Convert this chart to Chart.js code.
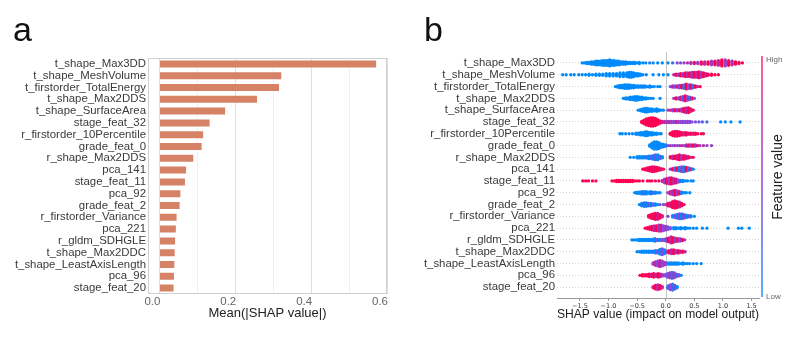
<!DOCTYPE html>
<html>
<head>
<meta charset="utf-8">
<script src="https://cdn.jsdelivr.net/npm/chart.js@4.4.1/dist/chart.umd.min.js"></script>
<style>
  body { margin: 0; background: #fff; font-family: "Liberation Sans", Arial, sans-serif; }
  #wrap { position: relative; width: 807px; height: 339px; overflow: hidden; }
  canvas { position: absolute; top: 0; }
  .panel { position: absolute; font-size: 34px; color: #111; line-height: 1; }
  #cbar { position: absolute; left: 761px; top: 56px; width: 2px; height: 241px;
          background: linear-gradient(#ff5c95, #b06fe0 50%, #5aaeff); }
  .cb { position: absolute; font-size: 8px; color: #666; }
  #fv { position: absolute; left: 777px; top: 177px; font-size: 14px; color: #222;
        transform: translate(-50%, -50%) rotate(-90deg); white-space: nowrap; }
</style>
</head>
<body>
<div id="wrap">
  <canvas id="barChart" width="400" height="339" style="left:0"></canvas>
  <canvas id="swarmChart" width="407" height="339" style="left:400px"></canvas>
  <div class="panel" style="left:13px; top:12px">a</div>
  <div class="panel" style="left:424px; top:12px">b</div>
  <div id="cbar"></div>
  <div class="cb" style="left:766px; top:55px">High</div>
  <div class="cb" style="left:766px; top:292px">Low</div>
  <div id="fv">Feature value</div>
</div>
<script>
// Features, top to bottom
const features = [
  't_shape_Max3DD', 't_shape_MeshVolume', 't_firstorder_TotalEnergy', 't_shape_Max2DDS',
  't_shape_SurfaceArea', 'stage_feat_32', 'r_firstorder_10Percentile', 'grade_feat_0',
  'r_shape_Max2DDS', 'pca_141', 'stage_feat_11', 'pca_92', 'grade_feat_2',
  'r_firstorder_Variance', 'pca_221', 'r_gldm_SDHGLE', 't_shape_Max2DDC',
  't_shape_LeastAxisLength', 'pca_96', 'stage_feat_20'
];

// Panel a: mean |SHAP value|
const meanAbsShap = [0.574, 0.324, 0.318, 0.260, 0.176, 0.135, 0.118, 0.114, 0.092, 0.073,
  0.070, 0.058, 0.056, 0.048, 0.046, 0.044, 0.043, 0.042, 0.041, 0.040];
const barTicks = [0, 0.1, 0.2, 0.3, 0.4, 0.5, 0.6];

// Panel b: SHAP values per feature, "shap:count:featureValue" (0 = low, 1 = high)
const shapTicks = [-1.5, -1.0, -0.5, 0.0, 0.5, 1.0, 1.5];
const swarmRows = [
  '-1.46:1:0 -1.42:1:0 -1.38:2:0 -1.34:2:0 -1.30:3:0 -1.26:3:0 -1.22:4:0 -1.18:4:0 -1.14:4:0 -1.10:5:0 -1.06:5:0 -1.02:5:0 -0.98:6:0 -0.94:5:0 -0.90:5:0 -0.86:4:0 -0.82:4:0 -0.78:3:0 -0.74:3:0 -0.70:3:0 -0.66:2:0 -0.62:2:0 -0.58:2:0 -0.54:2:0 -0.50:1:0 -0.46:2:0 -0.40:1:0 -0.35:1:0 -0.28:1:0.1 -0.22:1:0 -0.14:1:0 -0.06:1:0 0.04:1:0 0.12:1:0.2 0.20:1:0.5 0.26:1:0.4 0.32:1:0.6 0.38:1:0.7 0.44:2:0.6 0.50:2:0.9 0.56:2:0.6 0.62:3:0.9 0.68:3:0.7 0.74:3:1 0.80:4:0.6 0.86:4:1 0.92:5:0.7 0.98:6:1 1.04:6:0.6 1.10:5:1 1.16:4:0.7 1.22:3:1 1.28:2:0.9 1.34:1:1',
  '-1.80:1:0 -1.74:1:0 -1.66:1:0 -1.60:1:0 -1.52:1:0 -1.46:1:0 -1.40:1:0 -1.34:2:0 -1.28:1:0 -1.22:2:0 -1.16:2:0 -1.10:2:0 -1.04:3:0 -0.98:3:0 -0.92:3:0 -0.86:3:0 -0.80:4:0 -0.74:4:0 -0.68:4:0 -0.64:5:0 -0.60:5:0 -0.56:4:0 -0.52:3:0 -0.48:3:0 -0.44:2:0 -0.40:1:0 -0.34:1:0 -0.22:1:0 -0.12:1:0 -0.04:1:0 0.04:1:0 0.14:1:0.7 0.18:2:1 0.22:2:0.6 0.26:3:1 0.30:3:0.6 0.34:4:1 0.38:4:0.7 0.42:4:1 0.46:5:0.6 0.50:5:1 0.54:5:0.7 0.58:6:1 0.62:5:0.6 0.66:4:1 0.70:3:0.8 0.74:2:1 0.80:2:1 0.86:1:1 0.92:1:1',
  '-0.88:1:0 -0.84:2:0 -0.80:3:0 -0.76:3:0 -0.72:4:0 -0.68:4:0 -0.64:4:0 -0.60:3:0 -0.56:3:0 -0.52:2:0 -0.48:2:0 -0.44:2:0 -0.40:2:0 -0.36:2:0 -0.32:1:0 -0.28:2:0 -0.24:1:0 -0.20:1:0 -0.14:1:0 -0.10:1:0 0.08:1:0.5 0.12:2:0.7 0.16:2:0.4 0.20:2:0.8 0.24:3:0.5 0.28:3:1 0.32:4:0.2 0.36:5:1 0.40:4:0.5 0.44:4:0.9 0.48:3:0.2 0.52:2:1 0.56:1:0.7 0.60:1:1',
  '-0.74:1:0 -0.70:2:0 -0.66:2:0 -0.62:3:0 -0.58:3:0 -0.54:4:0 -0.50:4:0 -0.46:3:0 -0.42:3:0 -0.38:2:0 -0.34:2:0 -0.30:1:0 -0.26:1:0 -0.22:1:0 -0.10:1:0 0.14:1:0.6 0.18:2:1 0.22:2:0.5 0.26:3:0.8 0.30:4:0.4 0.34:5:1 0.38:4:0.6 0.42:3:0.2 0.46:2:1 0.50:1:0.5',
  '-0.48:1:0 -0.44:2:0 -0.40:3:0 -0.36:4:0 -0.32:4:0 -0.28:3:0 -0.24:3:0 -0.20:2:0 -0.16:3:0 -0.12:2:0 -0.08:1:0 -0.04:1:0 0.04:1:0.6 0.08:1:0.8 0.12:2:0.5 0.16:2:1 0.20:2:0.6 0.24:2:0.9 0.28:3:0.6 0.32:4:1 0.36:5:0.7 0.40:5:1 0.44:3:0.8 0.48:1:1',
  '-0.42:2:1 -0.38:4:1 -0.34:6:1 -0.30:7:1 -0.26:8:1 -0.22:8:1 -0.18:7:1 -0.14:5:1 -0.10:3:1 -0.06:2:0.8 -0.02:2:0.7 0.02:2:0.6 0.06:2:0.7 0.10:2:0.6 0.14:2:0.5 0.18:2:0.7 0.22:2:0.6 0.26:2:0.5 0.30:2:0.6 0.34:2:0.4 0.38:2:0.6 0.42:2:0.5 0.46:1:0.4 0.52:1:0.5 0.58:1:0.3 0.64:1:0.4 0.72:1:0.2 0.96:1:0 1.04:1:0 1.14:1:0 1.30:1:0',
  '-0.80:1:0 -0.76:1:0 -0.70:1:0 -0.64:1:0 -0.58:1:0 -0.52:2:0 -0.48:2:0 -0.44:3:0 -0.40:3:0 -0.36:4:0 -0.32:4:0 -0.28:3:0 -0.24:3:0 -0.20:2:0 -0.16:2:0 -0.12:1:0 -0.08:1:0 0.08:2:1 0.12:4:1 0.16:5:1 0.20:5:0.9 0.24:4:1 0.28:3:1 0.32:3:0.8 0.36:3:1 0.40:2:0.9 0.44:2:1 0.48:2:0.8 0.52:2:1 0.56:1:1 0.62:1:1 0.66:1:0.9',
  '-0.28:2:0 -0.24:5:0 -0.20:7:0 -0.16:7:0 -0.12:6:0 -0.08:4:0 -0.04:3:0 0.00:2:0 0.04:1:0.5 0.08:1:0.6 0.12:1:0.4 0.16:1:0.7 0.20:1:0.5 0.24:1:0.6 0.28:1:0.8 0.32:1:0.5 0.36:2:0.7 0.40:2:0.9 0.44:2:0.6 0.48:2:1 0.52:2:0.7 0.56:1:0.9 0.60:1:0.6 0.66:1:0.7 0.72:1:0.5 0.80:1:0.6',
  '-0.62:1:0 -0.56:1:0 -0.50:2:0 -0.46:2:0 -0.42:2:0 -0.38:2:0 -0.34:2:0.2 -0.30:3:0 -0.26:3:0.3 -0.22:4:0 -0.18:5:0.4 -0.14:5:0 -0.10:3:0.3 -0.06:2:0 0.08:2:1 0.12:3:0.7 0.16:3:1 0.20:4:0.8 0.24:5:1 0.28:4:0.6 0.32:4:1 0.36:3:0.8 0.40:2:1 0.44:1:0.7 0.48:1:1',
  '-0.40:1:1 -0.36:2:1 -0.32:3:0.9 -0.28:4:1 -0.24:5:1 -0.20:5:0.9 -0.16:4:1 -0.12:3:1 -0.08:2:0.8 -0.04:1:1 0.08:1:0.6 0.12:2:1 0.16:3:0.3 0.20:3:1 0.24:4:0 0.28:5:0.6 0.32:5:0 0.36:4:1 0.40:3:0.2 0.44:2:0.8 0.48:1:0',
  '-1.45:1:1 -1.40:1:1 -1.35:1:1 -1.28:1:1 -1.22:1:1 -0.94:1:1 -0.90:1:1 -0.86:2:1 -0.82:2:1 -0.78:2:1 -0.74:2:1 -0.70:2:1 -0.66:2:1 -0.62:2:1 -0.58:2:1 -0.54:1:1 -0.50:1:1 -0.46:1:1 -0.40:1:1 -0.32:1:1 -0.28:1:1 -0.24:1:1 -0.18:1:0.9 -0.12:1:1 -0.06:2:0.7 -0.02:4:0.6 0.02:5:1 0.06:6:0.6 0.10:6:1 0.14:5:0.7 0.18:4:0.9 0.22:3:0.5 0.26:2:0 0.30:2:0 0.34:1:0 0.38:1:0 0.44:1:0 0.48:1:0',
  '-0.54:1:0 -0.50:2:0 -0.46:2:0 -0.42:3:0 -0.38:3:0.2 -0.34:3:0 -0.30:2:0 -0.26:3:0 -0.22:2:0.3 -0.18:2:0 -0.14:1:0 -0.10:1:0 0.04:1:0.6 0.08:3:0.8 0.12:4:0.6 0.16:5:1 0.20:4:0.6 0.24:3:0.9 0.28:2:0 0.32:1:0 0.36:1:0 0.42:1:0',
  '-0.46:1:0 -0.42:3:0 -0.38:4:0.2 -0.34:4:0 -0.30:3:0.3 -0.26:3:0 -0.22:2:0.4 -0.18:2:0 -0.14:1:0 -0.10:1:0.3 -0.04:1:0.5 0.00:1:0.6 0.04:3:1 0.08:4:0.8 0.12:6:1 0.16:7:0.9 0.20:6:1 0.24:5:0.8 0.28:3:1 0.32:1:0.9',
  '-0.30:2:1 -0.26:4:1 -0.22:5:0.9 -0.18:6:1 -0.14:6:0.8 -0.10:4:1 -0.06:2:0.8 0.04:1:0.5 0.12:2:0 0.16:3:0.5 0.20:4:0 0.24:5:0.5 0.28:5:0 0.32:4:0.6 0.36:3:0 0.40:2:0.4 0.44:2:0 0.50:1:0',
  '-0.36:1:1 -0.32:2:1 -0.28:3:0.9 -0.24:4:1 -0.20:5:0.7 -0.16:5:1 -0.12:6:0.6 -0.08:6:0.8 -0.04:5:0.5 0.00:4:0.6 0.04:3:0.4 0.08:2:0.5 0.14:2:0 0.18:2:0 0.22:1:0 0.26:2:0 0.30:1:0 0.34:2:0 0.38:1:0 0.42:1:0 0.48:1:0 0.54:1:0 0.64:1:0 0.72:1:0 1.09:1:0 1.27:1:0 1.33:1:0 1.46:1:0',
  '-0.59:1:0 -0.55:1:0 -0.51:1:0 -0.47:2:0 -0.43:2:0 -0.39:2:0 -0.35:2:0 -0.31:2:0 -0.27:2:0 -0.23:2:0.2 -0.19:3:0 -0.15:2:0.4 -0.11:2:0 -0.07:2:0.5 -0.03:2:0.3 0.01:3:0.6 0.05:4:1 0.09:6:0.7 0.13:5:1 0.17:4:0.6 0.21:3:0.9 0.25:3:0.5 0.29:2:1 0.33:1:0.7',
  '-0.50:1:0 -0.46:1:0 -0.42:2:0 -0.38:2:0 -0.34:2:0 -0.30:2:0 -0.26:2:0 -0.22:2:0.2 -0.18:3:0 -0.14:3:0.4 -0.10:5:0 -0.06:6:0.5 -0.02:4:0 0.02:2:0.6 0.06:3:1 0.10:4:0.7 0.14:4:1 0.18:3:0.6 0.22:3:1 0.26:2:0.8 0.30:2:1 0.34:1:0.7',
  '-0.22:2:0.6 -0.18:4:0.7 -0.14:5:0.5 -0.10:6:0.8 -0.06:5:0.5 -0.02:3:0.6 0.02:2:0.4 0.06:2:0 0.10:2:0 0.14:2:0 0.18:2:0 0.22:2:0 0.26:1:0 0.30:2:0 0.34:1:0 0.38:1:0 0.42:1:0 0.48:1:0 0.54:1:0 0.62:1:0',
  '-0.45:1:1 -0.41:2:1 -0.37:2:0.9 -0.33:2:1 -0.29:3:1 -0.25:3:0.8 -0.21:4:1 -0.17:3:0.7 -0.13:4:1 -0.09:3:0.8 -0.05:2:0.6 -0.01:2:0.5 0.03:4:0.4 0.07:5:0.6 0.11:6:0.3 0.15:5:0.6 0.19:3:0.2 0.23:2:0.5 0.27:1:0',
  '-0.22:2:0.8 -0.18:4:1 -0.14:5:0.7 -0.10:4:1 -0.06:2:0.7 0.04:3:0.3 0.08:5:0.5 0.12:6:0.2 0.16:4:0.4 0.20:2:0'
];

const labelFont = { family: '"Liberation Sans", Arial, sans-serif', size: 11.4 };

// blue -> purple -> pink, like the SHAP colour map
function featColor(c) {
  const lo = [0, 138, 250], mid = [138, 72, 222], hi = [255, 0, 82];
  const a = c < 0.5 ? lo : mid, b = c < 0.5 ? mid : hi;
  const t = c < 0.5 ? c * 2 : (c - 0.5) * 2;
  const ch = i => Math.round(a[i] + (b[i] - a[i]) * t);
  return `rgb(${ch(0)},${ch(1)},${ch(2)})`;
}

// Panel a frame
const frame = {
  id: 'frame',
  afterDraw(chart) {
    const { ctx, chartArea: a } = chart;
    ctx.save();
    ctx.strokeStyle = '#cfcfcf';
    ctx.lineWidth = 1;
    ctx.strokeRect(a.left + 0.5, a.top + 0.5, a.width - 1, a.height - 1);
    ctx.restore();
  }
};

new Chart(document.getElementById('barChart'), {
  type: 'bar',
  data: {
    labels: features,
    datasets: [{
      data: meanAbsShap,
      backgroundColor: 'rgb(214,130,103)',
      borderColor: 'rgba(255,255,255,0.3)',
      borderWidth: 1,
      barPercentage: 0.76,
      categoryPercentage: 1
    }]
  },
  options: {
    indexAxis: 'y',
    responsive: false,
    animation: false,
    layout: { padding: { left: 0, right: 13, top: 58, bottom: 18 } },
    plugins: { legend: { display: false }, tooltip: { enabled: false } },
    scales: {
      x: {
        min: -0.03, max: 0.6,
        afterBuildTicks: s => { s.ticks = barTicks.map(v => ({ value: v })); },
        afterFit: s => { s.height = 27; },
        grid: {
          drawTicks: false,
          color: c => (Math.round(c.tick.value * 10) % 2 === 0 ? '#dedede' : '#f0f0f0')
        },
        border: { display: false },
        ticks: {
          padding: 1,
          labelOffset: -7,
          color: '#666',
          font: { family: '"Liberation Sans", Arial, sans-serif', size: 11.5 },
          callback: v => (Math.round(v * 10) % 2 === 0 ? v.toFixed(1) : '')
        },
        title: {
          display: true, text: 'Mean(|SHAP value|)', color: '#222',
          font: { family: '"Liberation Sans", Arial, sans-serif', size: 13 },
          padding: 0
        }
      },
      y: {
        afterFit: s => { s.width = 148; },
        grid: { display: false, drawTicks: false },
        border: { display: false },
        ticks: { padding: 2, color: '#3a3a3a', font: labelFont, autoSkip: false }
      }
    }
  },
  plugins: [frame]
});

// Panel b: beeswarm points laid out from the values
const points = [], colors = [];
swarmRows.forEach((row, r) => {
  row.trim().split(/\s+/).forEach(tok => {
    const [x, n, c] = tok.split(':').map(Number);
    for (let i = 0; i < n; i++) {
      points.push({ x, y: r + (i - (n - 1) / 2) * 0.1 });
      colors.push(featColor(c));
    }
  });
});

const zeroLine = {
  id: 'zeroLine',
  beforeDatasetsDraw(chart) {
    const { ctx, chartArea: a, scales } = chart;
    const x0 = Math.round(scales.x.getPixelForValue(0)) + 0.5;
    ctx.save();
    ctx.strokeStyle = '#c4c4c4';
    ctx.lineWidth = 1;
    ctx.beginPath();
    ctx.moveTo(x0, a.top);
    ctx.lineTo(x0, a.bottom);
    ctx.stroke();
    ctx.restore();
  }
};

new Chart(document.getElementById('swarmChart'), {
  type: 'scatter',
  data: {
    datasets: [{
      data: points,
      pointBackgroundColor: colors,
      pointBorderWidth: 0,
      pointRadius: 1.65,
      pointHoverRadius: 1.65
    }]
  },
  options: {
    responsive: false,
    animation: false,
    layout: { padding: { left: 0, right: 48, top: 52, bottom: 17 } },
    plugins: { legend: { display: false }, tooltip: { enabled: false } },
    scales: {
      x: {
        min: -1.9, max: 1.63,
        afterBuildTicks: s => { s.ticks = shapTicks.map(v => ({ value: v })); },
        afterFit: s => { s.height = 24; },
        grid: { drawOnChartArea: false, drawTicks: true, tickLength: 3, color: '#999' },
        border: { display: true, color: '#999', width: 1 },
        ticks: {
          padding: 1, color: '#333',
          font: { family: '"DejaVu Sans", sans-serif', size: 6.5 },
          callback: v => v.toFixed(1).replace('-', '\u2212')
        },
        title: {
          display: true, text: 'SHAP value (impact on model output)', color: '#222',
          font: { family: '"Liberation Sans", Arial, sans-serif', size: 13.5 },
          padding: 0
        }
      },
      y: {
        reverse: true,
        min: -0.93, max: 19.92,
        afterFit: s => { s.width = 157; },
        afterBuildTicks: s => { s.ticks = features.map((f, i) => ({ value: i })); },
        grid: { drawTicks: false, color: 'rgba(0,0,0,0.16)' },
        border: { display: false, dash: [1, 2] },
        ticks: { padding: 2, color: '#3a3a3a', font: labelFont, autoSkip: false,
                 callback: v => features[v] }
      }
    }
  },
  plugins: [zeroLine]
});
</script>
</body>
</html>
